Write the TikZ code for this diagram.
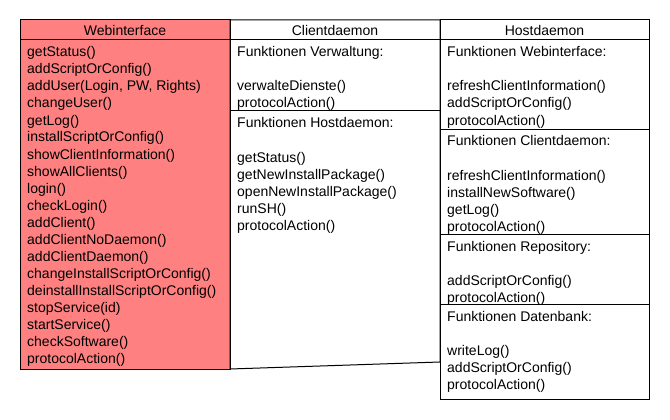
\documentclass[tikz,border=0pt]{standalone}
\usepackage{fontspec}
\setmainfont{Liberation Sans}
\definecolor{webred}{HTML}{FF8080}
\begin{document}
\begin{tikzpicture}[x=1pt,y=-1pt,
  font=\fontsize{14}{17}\selectfont,
  box/.style={draw=black, line width=1pt},
  item/.style={anchor=base west, inner sep=0pt},
  title/.style={anchor=base, inner sep=0pt}]
\useasboundingbox (0,0) rectangle (670,420);
% Webinterface
\fill[webred] (20,20) rectangle (230,369);
\draw[box] (20,20) rectangle (230,369);
\draw[box] (20,40) -- (230,40);
\node[title] (wt) at (125,35.5) {Webinterface};
\foreach \t [count=\i from 0] in {getStatus(), addScriptOrConfig(), {addUser(Login, PW, Rights)}, changeUser(), getLog(), installScriptOrConfig(), showClientInformation(), showAllClients(), login(), checkLogin(), addClient(), addClientNoDaemon(), addClientDaemon(), changeInstallScriptOrConfig(), deinstallInstallScriptOrConfig(), stopService(id), startService(), checkSoftware(), protocolAction()}
  \node[item] (w\i) at (27,57+17*\i) {\t};
% Clientdaemon
\draw[box] (230,20) -- (440,20) -- (440,362) -- (230,369) -- cycle;
\draw[box] (230,40) -- (440,40);
\draw[box] (230,111) -- (440,111);
\node[title] (ct) at (335,35.5) {Clientdaemon};
\node[item] (c1h) at (237,57) {Funktionen Verwaltung:};
\foreach \t [count=\i from 0] in {verwalteDienste(), protocolAction()}
  \node[item] (c1\i) at (237,91+17*\i) {\t};
\node[item] (c2h) at (237,128) {Funktionen Hostdaemon:};
\foreach \t [count=\i from 0] in {getStatus(), getNewInstallPackage(), openNewInstallPackage(), runSH(), protocolAction()}
  \node[item] (c2\i) at (237,162+17*\i) {\t};
% Hostdaemon
\draw[box] (440,20) rectangle (649,399);
\draw[box] (440,40) -- (649,40);
\draw[box] (440,129) -- (649,129);
\draw[box] (440,234) -- (649,234);
\draw[box] (440,304) -- (649,304);
\node[title] (ht) at (544.5,35.5) {Hostdaemon};
\node[item] (h1h) at (447,57) {Funktionen Webinterface:};
\foreach \t [count=\i from 0] in {refreshClientInformation(), addScriptOrConfig(), protocolAction()}
  \node[item] (h1\i) at (447,91+17*\i) {\t};
\node[item] (h2h) at (447,146) {Funktionen Clientdaemon:};
\foreach \t [count=\i from 0] in {refreshClientInformation(), installNewSoftware(), getLog(), protocolAction()}
  \node[item] (h2\i) at (447,180+17*\i) {\t};
\node[item] (h3h) at (447,251) {Funktionen Repository:};
\foreach \t [count=\i from 0] in {addScriptOrConfig(), protocolAction()}
  \node[item] (h3\i) at (447,285+17*\i) {\t};
\node[item] (h4h) at (447,321) {Funktionen Datenbank:};
\foreach \t [count=\i from 0] in {writeLog(), addScriptOrConfig(), protocolAction()}
  \node[item] (h4\i) at (447,355+17*\i) {\t};
\end{tikzpicture}
\end{document}
